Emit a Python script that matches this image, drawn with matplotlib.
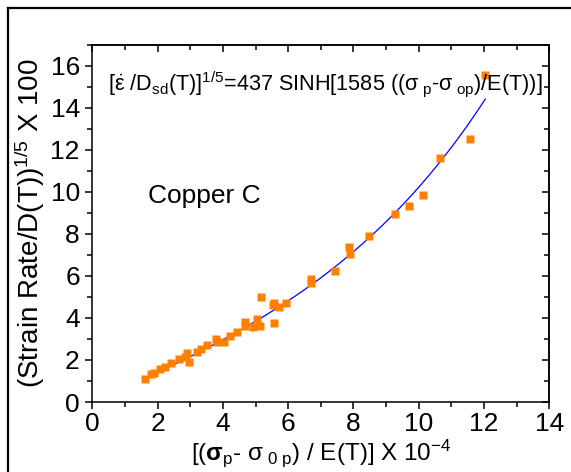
import numpy as np
import matplotlib
matplotlib.use('Agg')
import matplotlib.pyplot as plt
from matplotlib.ticker import MultipleLocator
from matplotlib.lines import Line2D

plt.rcParams['font.family'] = ['Liberation Sans', 'DejaVu Sans']
plt.rcParams['mathtext.fontset'] = 'custom'
plt.rcParams['mathtext.rm'] = 'Liberation Sans'
plt.rcParams['mathtext.it'] = 'Liberation Sans:italic'
plt.rcParams['mathtext.bf'] = 'Liberation Sans:bold'

# Datos
x_datos = [1.61, 1.80, 1.89, 2.07, 2.24, 2.41, 2.66, 2.83, 2.89, 2.97,
           3.22, 3.32, 3.50, 3.80, 3.83, 4.04, 4.21, 4.42, 4.67, 4.67,
           4.92, 5.03, 5.15, 5.16, 5.53, 5.57, 5.58, 5.72, 5.92, 6.71,
           6.71, 7.42, 7.86, 7.90, 8.47, 9.28, 9.69, 10.14, 10.66, 11.58,
           12.04]
y_datos = [1.08, 1.31, 1.39, 1.55, 1.68, 1.84, 2.04, 2.15, 2.31, 1.88,
           2.39, 2.52, 2.71, 2.99, 2.86, 2.86, 3.15, 3.34, 3.81, 3.62,
           3.58, 3.93, 3.61, 5.00, 4.61, 3.74, 4.70, 4.53, 4.69, 5.87,
           5.67, 6.22, 7.35, 7.06, 7.90, 8.93, 9.32, 9.83, 11.62, 12.50,
           15.56]

# Ajuste: y = A*sinh(B*x)  (A=437/100, B=1585*1e-4)
A = 437
B = 1585
x_ajuste_min, x_ajuste_max = 1.61, 12.04

fig = plt.figure(figsize=(5.71, 4.72), dpi=100)
ax = fig.add_axes([0.1617, 0.1483, 0.8003, 0.7574])

x_cont = np.linspace(x_ajuste_min, x_ajuste_max, 300)
ax.plot(x_cont, A / 100 * np.sinh(B * 1e-4 * x_cont), '-', color='#0000FF', lw=0.9, zorder=2)
ax.plot(x_datos, y_datos, 's', color='#FF8000', ms=6.2, mec='none', zorder=3)

ax.set_xlim(0, 14)
ax.set_ylim(0, 17)
ax.xaxis.set_major_locator(MultipleLocator(2))
ax.xaxis.set_minor_locator(MultipleLocator(1))
ax.yaxis.set_major_locator(MultipleLocator(2))
ax.yaxis.set_minor_locator(MultipleLocator(1))
ax.tick_params(which='both', direction='out', width=1.1, labelsize=19, pad=4)
ax.tick_params(axis='x', pad=2.5)
ax.tick_params(which='major', length=5)
ax.tick_params(which='minor', length=3.5)
for s in ax.spines.values():
    s.set_linewidth(1.1)

# ejes superior y derecho con marcas hacia dentro
top = ax.secondary_xaxis('top')
top.xaxis.set_major_locator(MultipleLocator(2))
top.xaxis.set_minor_locator(MultipleLocator(1))
top.tick_params(which='both', direction='in', width=1.1, labeltop=False)
top.tick_params(which='major', length=5)
top.tick_params(which='minor', length=3.5)
top.spines['top'].set_linewidth(1.1)
right = ax.secondary_yaxis('right')
right.yaxis.set_major_locator(MultipleLocator(2))
right.yaxis.set_minor_locator(MultipleLocator(1))
right.tick_params(which='both', direction='in', width=1.1, labelright=False)
right.tick_params(which='major', length=5)
right.tick_params(which='minor', length=3.5)
right.spines['right'].set_linewidth(1.1)

ax.set_ylabel(r'(Strain Rate/D(T))$^{1/5}$ X 100', fontsize=20)
ax.yaxis.set_label_coords(-0.10, 0.5)
ax.set_xlabel(r'[($\mathbf{σ}_{\mathrm{p}}$- σ$_{\ 0\ \mathrm{p}}$) / E(T)] X 10$^{-4}$',
              fontsize=17.5, va='baseline')
ax.xaxis.set_label_coords(0.5, -0.163)

ax.text(0.49, 14.81,
        r'[$\dot{\mathrm{ε}}$ /D$_{\mathrm{sd}}$(T)]$^{1/5}$=437 SINH[1585 ((σ$_{\ \mathrm{p}}$-σ$_{\ \mathrm{op}}$)/E(T))]',
        fontsize=15.6, ha='left', va='baseline')
ax.text(1.70, 9.45, 'Copper C', fontsize=19, ha='left', va='baseline')

# marco de la figura
fig.add_artist(Line2D([7.5 / 571, 7.5 / 571], [0, 1 - 7.5 / 472], color='black', lw=1.6,
                      transform=fig.transFigure))
fig.add_artist(Line2D([7.5 / 571, 1], [1 - 7.5 / 472, 1 - 7.5 / 472], color='black', lw=1.6,
                      transform=fig.transFigure))

fig.savefig('out.png', dpi=100)
